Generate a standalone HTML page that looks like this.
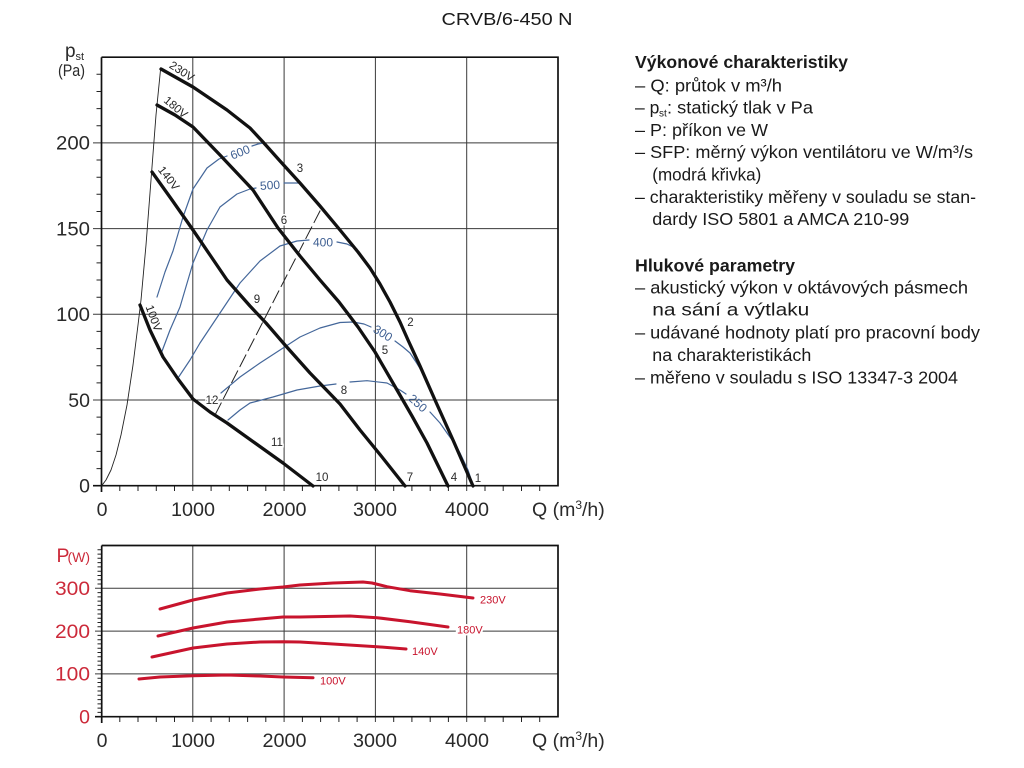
<!DOCTYPE html>
<html>
<head>
<meta charset="utf-8">
<style>
html,body{margin:0;padding:0;background:#fff;}
svg{display:block;}
</style>
</head>
<body>
<svg width="1024" height="768" viewBox="0 0 1024 768" xmlns="http://www.w3.org/2000/svg" font-family="'Liberation Sans', sans-serif">
<rect x="0" y="0" width="1024" height="768" fill="#fff"/>

<!-- Title -->
<text x="441.5" y="25" font-size="17.5" fill="#1a1a1a" textLength="131" lengthAdjust="spacingAndGlyphs">CRVB/6-450 N</text>

<!-- ================= TOP CHART ================= -->
<g stroke="#3a3a3a" stroke-width="1" fill="none">
  <path d="M192.8 57.2V491 M284.1 57.2V491 M375.4 57.2V491 M466.7 57.2V491"/>
  <path d="M93 400H558 M93 314.3H558 M93 228.6H558 M93 142.9H558"/>
</g>
<path stroke="#222" stroke-width="1" fill="none" d="M96.5 468.6H101.5M96.5 451.4H101.5M96.5 434.3H101.5M96.5 417.1H101.5M96.5 382.9H101.5M96.5 365.7H101.5M96.5 348.6H101.5M96.5 331.4H101.5M96.5 297.2H101.5M96.5 280H101.5M96.5 262.9H101.5M96.5 245.7H101.5M96.5 211.5H101.5M96.5 194.3H101.5M96.5 177.2H101.5M96.5 160H101.5M96.5 125.8H101.5M96.5 108.6H101.5M96.5 91.5H101.5M96.5 74.3H101.5"/>
<path stroke="#222" stroke-width="1" fill="none" d="M119.8 485.7V491M138 485.7V491M156.3 485.7V491M174.5 485.7V491M211.1 485.7V491M229.3 485.7V491M247.6 485.7V491M265.8 485.7V491M302.4 485.7V491M320.6 485.7V491M338.9 485.7V491M357.1 485.7V491M393.7 485.7V491M411.9 485.7V491M430.2 485.7V491M448.4 485.7V491M485 485.7V491M503.2 485.7V491M521.5 485.7V491M539.7 485.7V491"/>
<path d="M101.5 57.2H558V485.7H93 M101.5 57.2V492" stroke="#111" stroke-width="1.7" fill="none"/>

<!-- thin system curve -->
<polyline fill="none" stroke="#222" stroke-width="0.9" stroke-linejoin="round" points="101.7,485.7 106,480 111,470 116,455 121,435 127,405 133,365 138,325 141,300 146,245 151,180 156,115 160.5,70"/>

<!-- blue SFP curves -->
<g fill="none" stroke="#44679a" stroke-width="1.2" stroke-linejoin="round" stroke-linecap="round">
  <polyline points="157,297 165,272 173,251 183,217 193,189 207,168 219,159 227,156"/>
  <polyline points="252,146 258,144 263,143"/>
  <polyline points="161.7,352 170,330 180,307 193,263 207,230 220,207 237,194 250,189 256,188"/>
  <polyline points="284,183 292,183 300,183"/>
  <polyline points="178,378 190,360 200,343 220,313 240,283 260,261 280,246 297,241 309,240"/>
  <polyline points="337,242 347,244 357,249"/>
  <polyline points="221,393 240,377 260,363 280,350 300,337 320,328 340,322.5 353,322 364,324 371,327"/>
  <polyline points="395,341 403,347 410,353 416,362 421,370"/>
  <polyline points="228,420 240,410 250,403 273,397 297,390 320,386 336,384"/>
  <polyline points="350,382 367,380.7 387,383 400,390 406,394"/>
  <polyline points="430,412 440,423 447,433 455,444 460,453 468,470 472,482"/>
</g>
<line x1="215" y1="415" x2="321" y2="209" stroke="#222" stroke-width="1" stroke-dasharray="14 4"/>

<!-- black fan curves -->
<g fill="none" stroke="#111" stroke-width="3.3" stroke-linejoin="round" stroke-linecap="round">
  <polyline points="161,69 193,87 227,110 250,128 263,142 280,161 300,183 320,206 340,230 358,252 370,268 380,284 390,302 400,322 408,340 420,366 435,400 453,440 473,486"/>
  <polyline points="157,105 175,115 193,127 220,155 253,190 278,228 300,256 320,280 339,302 358,327 375,352 397,390 412,416 427,443 448,486"/>
  <polyline points="152,172 172,200 193,230 210,255 227,280 250,306 266,323 285,345 310,373 340,404 360,430 382,457 405,486"/>
  <polyline points="140,305 150,330 163,357 178,379 193,399 210,412 227,423 255,443 283,463 313,486"/>
</g>

<g fill="#3e5f92" font-size="12" text-anchor="middle">
  <text transform="translate(240,152) rotate(-22)" dy="0.36em">600</text>
  <text transform="translate(270,185) rotate(-4)" dy="0.36em">500</text>
  <text transform="translate(323,242)" dy="0.36em">400</text>
  <text transform="translate(383,333) rotate(32)" dy="0.36em">300</text>
  <text transform="translate(418,403) rotate(42)" dy="0.36em">250</text>
</g>

<g fill="#222" font-size="11.5" text-anchor="middle">
  <text transform="translate(182,71) rotate(33)" dy="0.36em">230V</text>
  <text transform="translate(176,107) rotate(40)" dy="0.36em">180V</text>
  <text transform="translate(169,178) rotate(52)" dy="0.36em">140V</text>
  <text transform="translate(154,318) rotate(70)" dy="0.36em">100V</text>
</g>

<g fill="#2a2a2a" font-size="11.5" text-anchor="middle" stroke="#fff" stroke-width="3" paint-order="stroke">
  <text x="300" y="172">3</text>
  <text x="284" y="224">6</text>
  <text x="410.5" y="326">2</text>
  <text x="385" y="354">5</text>
  <text x="257" y="303">9</text>
  <text x="344" y="394">8</text>
  <text x="212" y="404">12</text>
  <text x="277" y="446">11</text>
  <text x="322" y="481">10</text>
  <text x="410" y="481">7</text>
  <text x="454" y="481">4</text>
  <text x="478" y="482">1</text>
</g>

<g fill="#2a2a2a" font-size="19.5">
  <text x="65" y="57" font-size="19">p</text>
  <text x="75.5" y="60" font-size="11">st</text>
  <text x="58" y="76" font-size="17" textLength="27" lengthAdjust="spacingAndGlyphs">(Pa)</text>
  <g text-anchor="end">
    <text x="90" y="149.7" textLength="34" lengthAdjust="spacingAndGlyphs">200</text>
    <text x="90" y="235.4" textLength="34" lengthAdjust="spacingAndGlyphs">150</text>
    <text x="90" y="321.1" textLength="34" lengthAdjust="spacingAndGlyphs">100</text>
    <text x="90" y="406.8">50</text>
    <text x="90" y="492.5">0</text>
  </g>
  <g text-anchor="middle">
    <text x="102" y="516">0</text>
    <text x="193" y="516" textLength="44" lengthAdjust="spacingAndGlyphs">1000</text>
    <text x="284.5" y="516" textLength="44" lengthAdjust="spacingAndGlyphs">2000</text>
    <text x="375" y="516" textLength="44" lengthAdjust="spacingAndGlyphs">3000</text>
    <text x="467" y="516" textLength="44" lengthAdjust="spacingAndGlyphs">4000</text>
  </g>
  <text x="532" y="516">Q (m<tspan font-size="12" dy="-7">3</tspan><tspan dy="7">/h)</tspan></text>
</g>

<!-- ================= BOTTOM CHART ================= -->
<g stroke="#3a3a3a" stroke-width="1" fill="none">
  <path d="M192.8 545.5V722 M284.1 545.5V722 M375.4 545.5V722 M466.7 545.5V722"/>
  <path d="M95 673.9H558 M95 631.1H558 M95 588.3H558"/>
</g>
<path stroke="#222" stroke-width="1" fill="none" d="M97.5 712.4H101.7M97.5 708.1H101.7M97.5 703.9H101.7M97.5 699.6H101.7M97.5 695.3H101.7M97.5 691H101.7M97.5 686.7H101.7M97.5 682.5H101.7M97.5 678.2H101.7M97.5 669.6H101.7M97.5 665.3H101.7M97.5 661.1H101.7M97.5 656.8H101.7M97.5 652.5H101.7M97.5 648.2H101.7M97.5 643.9H101.7M97.5 639.7H101.7M97.5 635.4H101.7M97.5 626.8H101.7M97.5 622.5H101.7M97.5 618.3H101.7M97.5 614H101.7M97.5 609.7H101.7M97.5 605.4H101.7M97.5 601.1H101.7M97.5 596.9H101.7M97.5 592.6H101.7M97.5 584H101.7M97.5 579.7H101.7M97.5 575.5H101.7M97.5 571.2H101.7M97.5 566.9H101.7M97.5 562.6H101.7M97.5 558.3H101.7M97.5 554.1H101.7M97.5 549.8H101.7"/>
<path stroke="#222" stroke-width="1" fill="none" d="M119.8 716.7V722M138 716.7V722M156.3 716.7V722M174.5 716.7V722M211.1 716.7V722M229.3 716.7V722M247.6 716.7V722M265.8 716.7V722M302.4 716.7V722M320.6 716.7V722M338.9 716.7V722M357.1 716.7V722M393.7 716.7V722M411.9 716.7V722M430.2 716.7V722M448.4 716.7V722M485 716.7V722M503.2 716.7V722M521.5 716.7V722M539.7 716.7V722"/>
<path d="M101.7 545.5H558V716.7H95 M101.7 545.5V723" stroke="#111" stroke-width="1.7" fill="none"/>

<g fill="none" stroke="#c8142d" stroke-width="3" stroke-linejoin="round" stroke-linecap="round">
  <polyline points="160,609 193,600 227,593 260,589 283,587 300,585 333,583 363,582 372,583 387,586.7 410,590.7 440,594 473,598"/>
  <polyline points="158,636 193,628 227,622 260,619 283,617 300,617 350,616 377,617.7 410,621.7 448,627"/>
  <polyline points="152,657 193,648 227,644 260,642 283,641.7 300,642 333,644 377,646.7 406,649"/>
  <polyline points="139,679 160,677 193,675.7 227,675 260,676 283,677 313,677.7"/>
</g>
<g fill="#c8142d" font-size="11" stroke="#fff" stroke-width="4" paint-order="stroke">
  <text x="480" y="603.5">230V</text>
  <text x="457" y="633.5">180V</text>
  <text x="412" y="655">140V</text>
  <text x="320" y="684.5">100V</text>
</g>

<g fill="#cc2a3a" font-size="19.5">
  <text x="56.5" y="562">P</text>
  <text x="67.5" y="562" font-size="14">(W)</text>
  <g text-anchor="end">
    <text x="90" y="595" textLength="35" lengthAdjust="spacingAndGlyphs">300</text>
    <text x="90" y="637.8" textLength="35" lengthAdjust="spacingAndGlyphs">200</text>
    <text x="90" y="680.6" textLength="35" lengthAdjust="spacingAndGlyphs">100</text>
    <text x="90" y="723.4">0</text>
  </g>
</g>
<g fill="#2a2a2a" font-size="19.5">
  <g text-anchor="middle">
    <text x="102" y="747">0</text>
    <text x="193" y="747" textLength="44" lengthAdjust="spacingAndGlyphs">1000</text>
    <text x="284.5" y="747" textLength="44" lengthAdjust="spacingAndGlyphs">2000</text>
    <text x="375" y="747" textLength="44" lengthAdjust="spacingAndGlyphs">3000</text>
    <text x="467" y="747" textLength="44" lengthAdjust="spacingAndGlyphs">4000</text>
  </g>
  <text x="532" y="747">Q (m<tspan font-size="12" dy="-7">3</tspan><tspan dy="7">/h)</tspan></text>
</g>

<!-- ================= RIGHT TEXT ================= -->
<g fill="#1a1a1a" font-size="17.5">
  <text x="635" y="68" font-weight="bold" textLength="213" lengthAdjust="spacingAndGlyphs">Výkonové charakteristiky</text>
  <text x="635" y="91.5" textLength="147" lengthAdjust="spacingAndGlyphs">– Q: průtok v m³/h</text>
  <text x="635" y="113.5">– p</text>
  <text x="659" y="116.5" font-size="10">st</text>
  <text x="667" y="113.5" textLength="146" lengthAdjust="spacingAndGlyphs">: statický tlak v Pa</text>
  <text x="635" y="136" textLength="133" lengthAdjust="spacingAndGlyphs">– P: příkon ve W</text>
  <text x="635" y="158" textLength="338" lengthAdjust="spacingAndGlyphs">– SFP: měrný výkon ventilátoru ve W/m³/s</text>
  <text x="652.3" y="180.5" textLength="109" lengthAdjust="spacingAndGlyphs">(modrá křivka)</text>
  <text x="635" y="203" textLength="341" lengthAdjust="spacingAndGlyphs">– charakteristiky měřeny v souladu se stan-</text>
  <text x="652.3" y="225" textLength="257" lengthAdjust="spacingAndGlyphs">dardy ISO 5801 a AMCA 210-99</text>
  <text x="635" y="271.5" font-weight="bold" textLength="160" lengthAdjust="spacingAndGlyphs">Hlukové parametry</text>
  <text x="635" y="293.5" textLength="333" lengthAdjust="spacingAndGlyphs">– akustický výkon v oktávových pásmech</text>
  <text x="652.3" y="315.5" textLength="157" lengthAdjust="spacingAndGlyphs">na sání a výtlaku</text>
  <text x="635" y="338.5" textLength="345" lengthAdjust="spacingAndGlyphs">– udávané hodnoty platí pro pracovní body</text>
  <text x="652.3" y="361" textLength="159" lengthAdjust="spacingAndGlyphs">na charakteristikách</text>
  <text x="635" y="383.5" textLength="323" lengthAdjust="spacingAndGlyphs">– měřeno v souladu s ISO 13347-3 2004</text>
</g>
</svg>
</body>
</html>
